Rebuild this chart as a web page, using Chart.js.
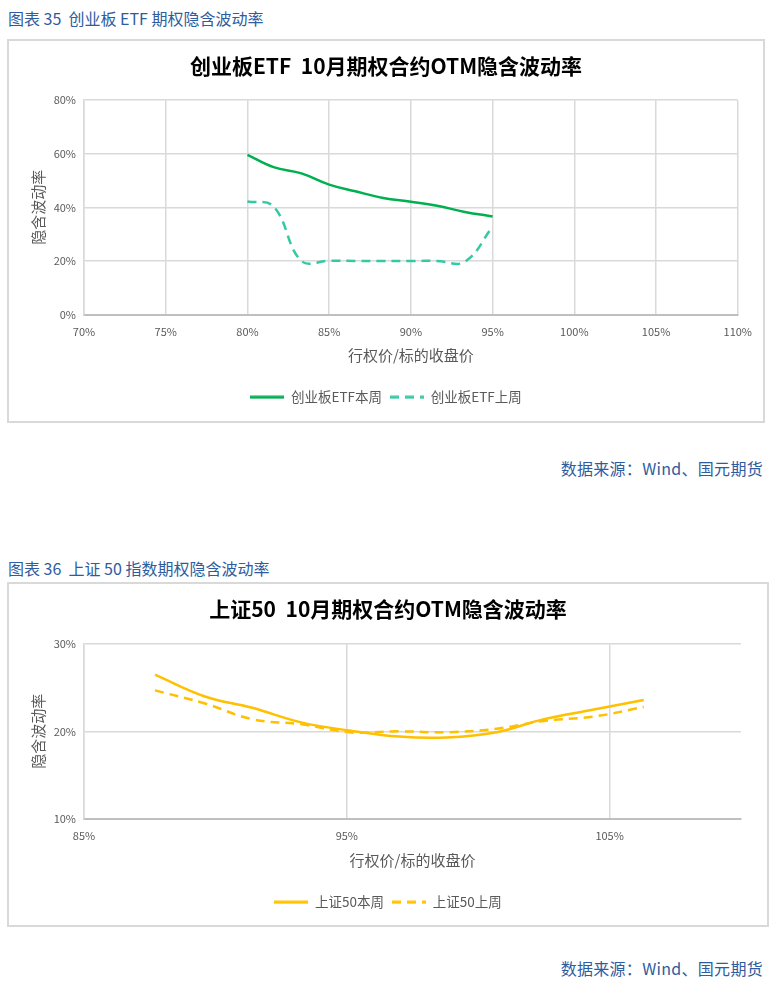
<!DOCTYPE html>
<html lang="zh">
  <head>
    <meta charset="UTF-8" />
    <title>期权隐含波动率</title>
    <script src="https://cdn.jsdelivr.net/npm/chart.js"></script>
    <style>
      body { margin: 0; width: 781px; height: 1002px; background: #fff; position: relative;
        font-family: "Noto Sans CJK SC", "Noto Sans", sans-serif; }
      .cap { position: absolute; left: 8px; font-size: 16px; color: #2e5c9e; }
      .src { position: absolute; right: 18px; font-size: 16px; letter-spacing: 0.3px; color: #2e5c9e; }
      .box { position: absolute; left: 7px; border: 2px solid #d9d9d9; box-sizing: border-box; }
      .box canvas { position: absolute; left: 0; top: 0; }
    </style>
  </head>
  <body>
    <div class="cap" style="top: 6px">图表 35&nbsp; 创业板 ETF 期权隐含波动率</div>
    <div class="box" style="top: 39px; width: 758px; height: 384px">
      <canvas id="cybChart"></canvas>
    </div>
    <div class="src" style="top: 456px">数据来源：Wind、国元期货</div>

    <div class="cap" style="top: 556px">图表 36&nbsp; 上证 50 指数期权隐含波动率</div>
    <div class="box" style="top: 582px; width: 762px; height: 345px">
      <canvas id="szChart"></canvas>
    </div>
    <div class="src" style="top: 956px">数据来源：Wind、国元期货</div>

    <script>
      // 创业板ETF: moneyness (%) and implied vol (%)
      const cybStrikes = [80, 81.6, 83.3, 85, 86.6, 88.3, 90, 91.6, 93.3, 95];
      const cybThisWeek = [59.6, 55.0, 52.7, 48.5, 46.0, 43.5, 42.1, 40.6, 38.3, 36.6];
      const cybLastWeek = [42.2, 40.3, 20.0, 20.1, 20.0, 20.0, 20.0, 20.0, 19.7, 32.8];
      const cybXTicks = [70, 75, 80, 85, 90, 95, 100, 105, 110];
      const cybYTicks = [0, 20, 40, 60, 80];

      // 上证50
      const szStrikes = [87.7, 89.6, 91.4, 93.3, 95.1, 97.0, 98.8, 100.7, 102.5, 104.4, 106.3];
      const szThisWeek = [26.5, 24.0, 22.7, 21.0, 20.1, 19.4, 19.3, 19.9, 21.4, 22.5, 23.6];
      const szLastWeek = [24.7, 23.2, 21.4, 20.8, 19.9, 20.0, 19.9, 20.3, 21.2, 21.7, 22.8];
      const szXTicks = [85, 95, 105];
      const szXMax = 110;
      const szYTicks = [10, 20, 30];

      const FONT = "'Liberation Sans Narrow', 'Noto Sans CJK SC', sans-serif";
      const GRID = "#d9d9d9";
      const TXT = "#595959";

      function toPoints(xs, ys) {
        return xs.map((x, i) => ({ x: x, y: ys[i] }));
      }

      // small line sample used as the legend marker
      function legendLine(color, dash) {
        const c = document.createElement("canvas");
        c.width = 34;
        c.height = 4;
        const ctx = c.getContext("2d");
        ctx.strokeStyle = color;
        ctx.lineWidth = 3;
        ctx.setLineDash(dash);
        ctx.beginPath();
        ctx.moveTo(0, 2);
        ctx.lineTo(34, 2);
        ctx.stroke();
        return c;
      }

      function makeChart(id, w, h, cfg) {
        const canvas = document.getElementById(id);
        canvas.style.width = w + "px";
        canvas.style.height = h + "px";
        canvas.width = w;
        canvas.height = h;
        return new Chart(canvas, {
          type: "line",
          data: {
            datasets: [
              {
                label: cfg.names[0],
                data: toPoints(cfg.xs, cfg.a),
                borderColor: cfg.colors[0],
                backgroundColor: cfg.colors[0],
                borderWidth: 2.5,
                pointRadius: 0,
                pointStyle: legendLine(cfg.colors[0], []),
                tension: 0.4,
              },
              {
                label: cfg.names[1],
                data: toPoints(cfg.xs, cfg.b),
                borderColor: cfg.colors[1],
                backgroundColor: cfg.colors[1],
                borderWidth: 2.5,
                borderDash: [9, 6],
                pointRadius: 0,
                pointStyle: legendLine(cfg.colors[1], [9, 6]),
                tension: 0.4,
              },
            ],
          },
          options: {
            responsive: false,
            animation: false,
            layout: { padding: { left: 0, right: 0, top: 0, bottom: cfg.padBottom } },
            scales: {
              x: {
                type: "linear",
                min: cfg.xTicks[0],
                max: cfg.xMax,
                afterBuildTicks: (s) => { s.ticks = cfg.xTicks.map((v) => ({ value: v })); },
                afterFit: (s) => { s.height = cfg.xHeight; },
                grid: { color: GRID, lineWidth: 1.5, drawTicks: false },
                border: { color: "#bfbfbf", width: 2 },
                ticks: {
                  color: TXT,
                  font: { family: FONT, size: 11 },
                  padding: 11,
                  maxRotation: 0,
                  callback: (v) => v + "%",
                },
                title: {
                  display: true,
                  text: "行权价/标的收盘价",
                  color: TXT,
                  font: { family: FONT, size: 15 },
                  padding: { top: 0, bottom: 18 },
                },
              },
              y: {
                min: cfg.yTicks[0],
                max: cfg.yTicks[cfg.yTicks.length - 1],
                afterBuildTicks: (s) => { s.ticks = cfg.yTicks.map((v) => ({ value: v })); },
                afterFit: (s) => { s.width = cfg.yWidth; },
                grid: { color: GRID, lineWidth: 1.5, drawTicks: false },
                border: { color: GRID, width: 1.5 },
                ticks: {
                  color: TXT,
                  font: { family: FONT, size: 11 },
                  padding: 8,
                  callback: (v) => v + "%",
                },
                title: {
                  display: true,
                  text: "隐含波动率",
                  color: TXT,
                  font: { family: FONT, size: 15 },
                  padding: { top: 20, bottom: 0 },
                },
              },
              // empty right-hand strip so title and legend stay centred on the box
              spacer: {
                position: "right",
                grid: { display: false },
                border: { display: false },
                ticks: { display: false },
                afterFit: (s) => { s.width = cfg.padRight; },
              },
            },
            plugins: {
              title: {
                display: true,
                text: cfg.title,
                color: "#000",
                font: { family: FONT, size: 21, weight: "bold" },
                padding: { top: 12, bottom: cfg.titleGap },
              },
              legend: {
                position: "bottom",
                labels: {
                  usePointStyle: true,
                  pointStyleWidth: 34,
                  color: TXT,
                  font: { family: FONT, size: 13.5 },
                  padding: 8,
                },
              },
              tooltip: { enabled: false },
            },
          },
        });
      }

      makeChart("cybChart", 754, 380, {
        title: "创业板ETF  10月期权合约OTM隐含波动率",
        names: ["创业板ETF本周", "创业板ETF上周"],
        colors: ["#00b050", "#33c9a2"],
        xs: cybStrikes,
        a: cybThisWeek,
        b: cybLastWeek,
        xTicks: cybXTicks,
        xMax: cybXTicks[cybXTicks.length - 1],
        yTicks: cybYTicks,
        yWidth: 75,
        xHeight: 68,
        padRight: 22,
        padBottom: 7,
        titleGap: 22,
      });

      makeChart("szChart", 758, 341, {
        title: "上证50  10月期权合约OTM隐含波动率",
        names: ["上证50本周", "上证50上周"],
        colors: ["#ffc000", "#ffc000"],
        xs: szStrikes,
        a: szThisWeek,
        b: szLastWeek,
        xTicks: szXTicks,
        xMax: szXMax,
        yTicks: szYTicks,
        yWidth: 75,
        xHeight: 69,
        padRight: 26,
        padBottom: 6,
        titleGap: 23,
      });
    </script>
  </body>
</html>
